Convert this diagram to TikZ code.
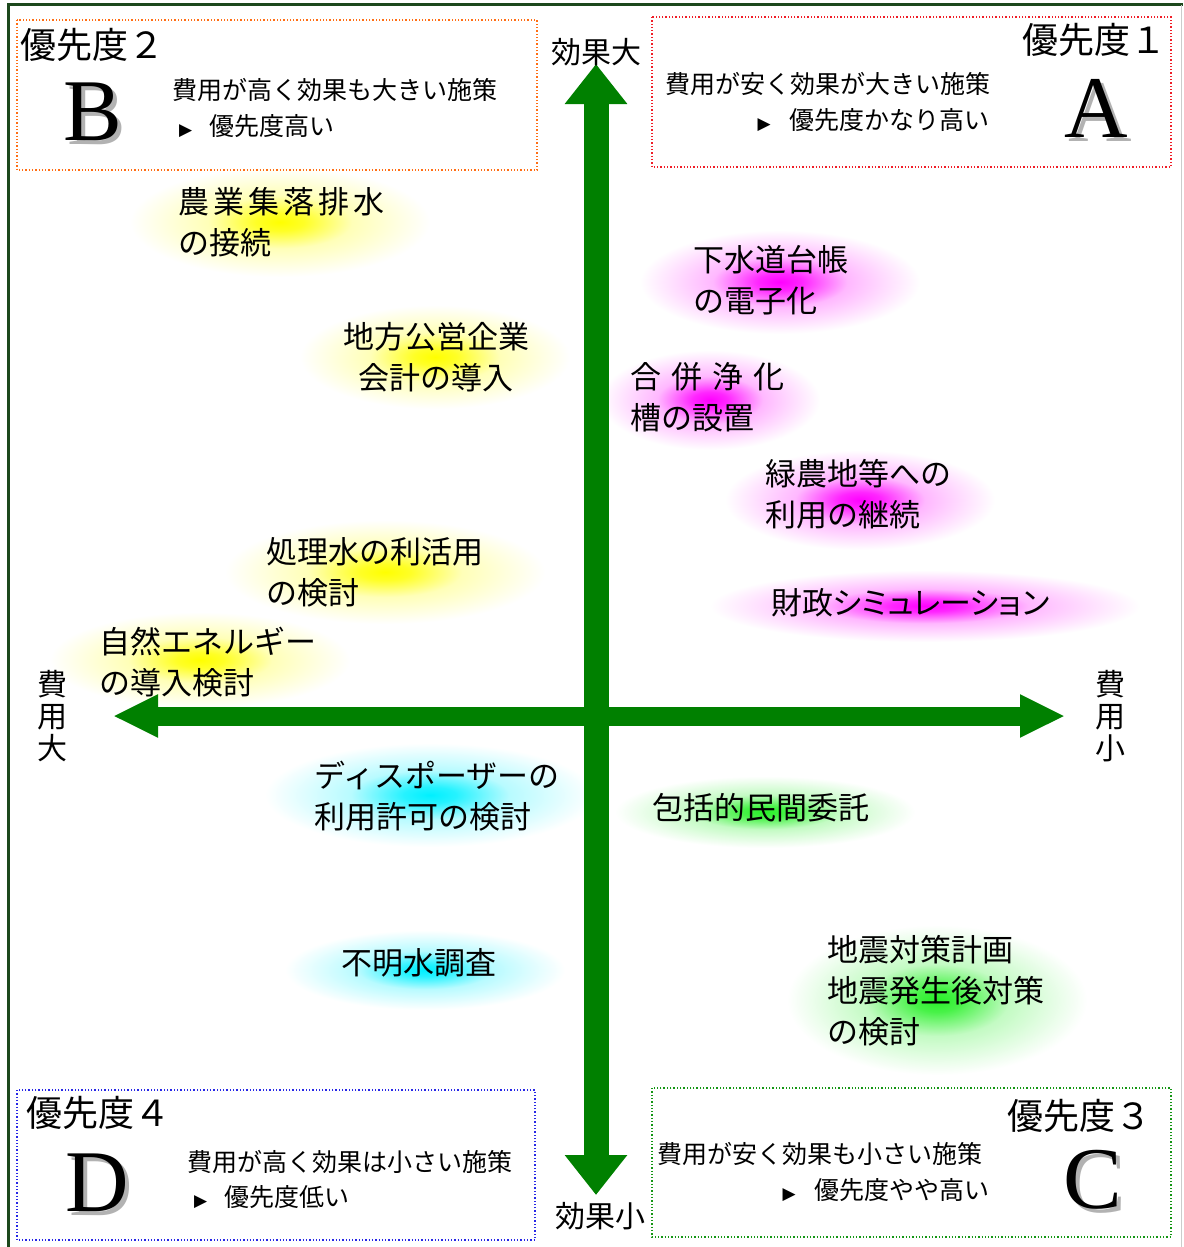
\documentclass[tikz,border=0pt]{standalone}
\usepackage{fontspec}
\setmainfont{Noto Sans CJK JP}
\newfontfamily\serifL{Liberation Serif}
\newfontfamily\symf{DejaVu Sans}
\usetikzlibrary{arrows.meta}
\definecolor{axisgreen}{RGB}{0,128,0}
\definecolor{framegreen}{RGB}{28,72,28}
\definecolor{boxorange}{RGB}{255,110,20}
\definecolor{boxred}{RGB}{240,30,40}
\definecolor{boxblue}{RGB}{40,40,230}
\definecolor{boxgreen}{RGB}{20,150,20}
\definecolor{gY}{RGB}{255,255,0}
\definecolor{gM}{RGB}{255,0,255}
\definecolor{gC}{RGB}{0,240,255}
\definecolor{gG}{RGB}{40,240,40}
\pgfdeclareradialshading{glowY}{\pgfpoint{0bp}{0bp}}{color(0bp)=(gY); color(4bp)=(gY!85!white); color(12bp)=(gY!28!white); color(25bp)=(white); color(50bp)=(white)}
\pgfdeclareradialshading{glowM}{\pgfpoint{0bp}{0bp}}{color(0bp)=(gM); color(4bp)=(gM!85!white); color(12bp)=(gM!28!white); color(25bp)=(white); color(50bp)=(white)}
\pgfdeclareradialshading{glowC}{\pgfpoint{0bp}{0bp}}{color(0bp)=(gC); color(4bp)=(gC!85!white); color(12bp)=(gC!28!white); color(25bp)=(white); color(50bp)=(white)}
\pgfdeclareradialshading{glowG}{\pgfpoint{0bp}{0bp}}{color(0bp)=(gG); color(4bp)=(gG!85!white); color(12bp)=(gG!28!white); color(25bp)=(white); color(50bp)=(white)}
\tikzset{
  item/.style={font=\fontsize{31}{41}\selectfont, align=left, inner sep=0pt, anchor=west},
  desc/.style={font=\fontsize{25}{30}\selectfont, inner sep=0pt},
  head/.style={font=\fontsize{36}{40}\selectfont, inner sep=0pt},
  axlbl/.style={font=\fontsize{30}{32}\selectfont, inner sep=0pt, align=center},
  bigletter/.style={font=\serifL\fontsize{88}{90}\selectfont, inner sep=0pt},
  pbox/.style={dotted, line width=1.3pt},
  axisarrow/.style={draw=axisgreen, color=axisgreen},
}
\newcommand{\tri}{{\symf\fontsize{17}{17}\selectfont ▶}}
\begin{document}
\begin{tikzpicture}[x=1pt,y=-1pt]
\useasboundingbox (0,0) rectangle (1183,1247);
\fill[white] (0,0) rectangle (1183,1247);
% frame
\draw[framegreen, line width=3pt] (8,1247) -- (8,5) -- (1183,5);
\draw[gray!40, line width=1pt] (1181,5) -- (1181,1247);

% glows
\shade[shading=glowY] (280,222) ellipse [x radius=150pt, y radius=55pt];
\shade[shading=glowY] (435,357) ellipse [x radius=135pt, y radius=52pt];
\shade[shading=glowY] (385,572) ellipse [x radius=160pt, y radius=52pt];
\shade[shading=glowY] (200,660) ellipse [x radius=150pt, y radius=48pt];
\shade[shading=glowM] (780,282) ellipse [x radius=140pt, y radius=52pt];
\shade[shading=glowM] (710,400) ellipse [x radius=110pt, y radius=50pt];
\shade[shading=glowM] (860,500) ellipse [x radius=135pt, y radius=50pt];
\shade[shading=glowM] (925,606) ellipse [x radius=215pt, y radius=36pt];
\shade[shading=glowC] (430,795) ellipse [x radius=165pt, y radius=52pt];
\shade[shading=glowG] (765,812) ellipse [x radius=150pt, y radius=36pt];
\shade[shading=glowC] (425,970) ellipse [x radius=140pt, y radius=40pt];
\shade[shading=glowG] (937,1000) ellipse [x radius=150pt, y radius=75pt];

% priority boxes
\draw[pbox, boxorange] (17,20) rectangle (537,170);
\draw[pbox, boxred] (652,17) rectangle (1171,167);
\draw[pbox, boxblue] (17,1090) rectangle (535,1240);
\draw[pbox, boxgreen] (652,1088) rectangle (1171,1237);

% axes
\coordinate (vtop) at (596,64);
\coordinate (vbot) at (596,1195);
\coordinate (hleft) at (113,716);
\coordinate (hright) at (1065,716);
\draw[axisarrow, line width=25pt, {Triangle[length=40pt,width=60pt]}-{Triangle[length=40pt,width=60pt]}] (vbot) -- (vtop);
\draw[axisarrow, line width=19pt, {Triangle[length=45pt,width=40pt]}-{Triangle[length=45pt,width=40pt]}] (hleft) -- (hright);

% axis labels
\node[axlbl] (effbig) at (596,52) {効果大};
\node[axlbl] (effsmall) at (600,1216) {効果小};
\node[axlbl] (costbig) at (52,716) {費\\用\\大};
\node[axlbl] (costsmall) at (1110,716) {費\\用\\小};

% box B
\node[head, anchor=west] (hB) at (20,45) {優先度２};
\node[bigletter, gray!60] (Bs) at (97,116) {B};
\node[bigletter] (B) at (93,112) {B};
\node[desc, anchor=west] (dB1) at (172,90) {費用が高く効果も大きい施策};
\node[desc, anchor=west] (dB2) at (179,126) {\tri\hspace{17pt}優先度高い};

% box A
\node[head, anchor=east] (hA) at (1167,40) {優先度１};
\node[bigletter, gray!60] (As) at (1100,112) {A};
\node[bigletter] (A) at (1096,108) {A};
\node[desc, anchor=west] (dA1) at (665,84) {費用が安く効果が大きい施策};
\node[desc, anchor=east] (dA2) at (990,120) {\tri\hspace{19pt}優先度かなり高い};

% box D
\node[head, anchor=west] (hD) at (26,1113) {優先度４};
\node[bigletter, gray!60] (Ds) at (101,1187) {D};
\node[bigletter] (D) at (97,1183) {D};
\node[desc, anchor=west] (dD1) at (187,1162) {費用が高く効果は小さい施策};
\node[desc, anchor=west] (dD2) at (194,1197) {\tri\hspace{17pt}優先度低い};

% box C
\node[head, anchor=east] (hC) at (1152,1116) {優先度３};
\node[bigletter, gray!60] (Cs) at (1097,1184) {C};
\node[bigletter] (C) at (1093,1180) {C};
\node[desc, anchor=west] (dC1) at (657,1154) {費用が安く効果も小さい施策};
\node[desc, anchor=east] (dC2) at (990,1190) {\tri\hspace{19pt}優先度やや高い};

% measures
\node[item] (m1) at (178,222) {農\kern4pt 業\kern4pt 集\kern4pt 落\kern4pt 排\kern4pt 水\\の接続};
\node[item, anchor=center, align=center] (m2) at (436,357) {地方公営企業\\会計の導入};
\node[item] (m3) at (266,572) {処理水の利活用\\の検討};
\node[item] (m4) at (99,662) {自然エネルギー\\の導入検討};
\node[item] (m5) at (693,280) {下水道台帳\\の電子化};
\node[item] (m6) at (630,397) {合\kern10pt 併\kern10pt 浄\kern10pt 化\\槽の設置};
\node[item] (m7) at (765,494) {緑農地等への\\利用の継続};
\node[item, font=\fontsize{31}{41}\selectfont\addfontfeature{RawFeature=+palt}] (m8) at (771,603) {財政シミュレーション};
\node[item] (m9) at (314,796) {ディスポーザーの\\利用許可の検討};
\node[item] (m10) at (652,808) {包括的民間委託};
\node[item] (m11) at (341,963) {不明水調査};
\node[item] (m12) at (827,991) {地震対策計画\\地震発生後対策\\の検討};
\end{tikzpicture}
\end{document}
